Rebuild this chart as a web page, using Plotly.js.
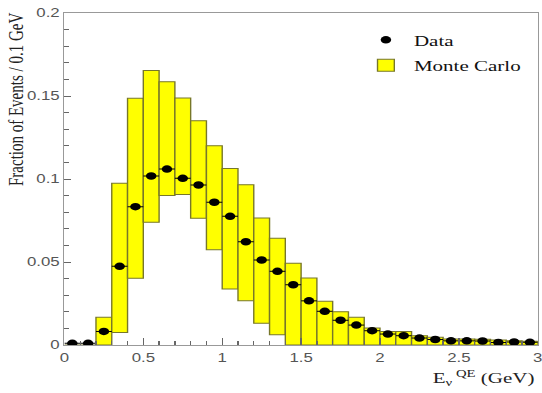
<!DOCTYPE html>
<html>
<head>
<meta charset="utf-8">
<script src="https://cdn.plot.ly/plotly-3.0.1.min.js"></script>
<style>
  html, body { margin: 0; padding: 0; background: #fff; overflow: hidden; }
  #wrap { width: 542px; height: 393px; overflow: hidden; }
  #plot { width: 387px; height: 393px; transform: scale(1.4005, 1); transform-origin: 0 0; }
</style>
</head>
<body>
<div id="wrap"><div id="plot"></div></div>
<script>
// Bin centres (GeV), bin width 0.1
const binCenters = [0.05,0.15,0.25,0.35,0.45,0.55,0.65,0.75,0.85,0.95,
                    1.05,1.15,1.25,1.35,1.45,1.55,1.65,1.75,1.85,1.95,
                    2.05,2.15,2.25,2.35,2.45,2.55,2.65,2.75,2.85,2.95];
// Data points (fraction of events / 0.1 GeV)
const dataValues = [0.001,0.001,0.0082,0.0474,0.0833,0.1018,0.106,0.1004,0.0964,0.086,
                    0.0775,0.0622,0.0512,0.0444,0.0363,0.0266,0.0203,0.0149,0.012,0.0086,
                    0.0066,0.0056,0.0042,0.0033,0.0025,0.0025,0.0024,0.0015,0.0018,0.0016];
// Monte Carlo band: upper and lower edges
const mcHigh = [0,0,0.0167,0.0975,0.1486,0.1653,0.1586,0.1488,0.1351,0.1201,
                0.1064,0.0966,0.0765,0.0643,0.0492,0.0404,0.0263,0.0201,0.0167,0.0102,
                0.0082,0.0082,0.0056,0.0046,0.0036,0.0036,0.0034,0.003,0.0026,0.0022];
const mcLow  = [0,0,0,0.0076,0.0402,0.0739,0.09,0.0906,0.0763,0.0574,
                0.0337,0.0267,0.0131,0.0062,0,0,0,0,0,0,
                0,0,0,0,0,0,0,0,0,0];
const binWidth = 0.1;

const dataTrace = {
  type: 'scatter', mode: 'markers', name: 'Data',
  x: binCenters, y: dataValues,
  marker: { color: '#000', size: 7.5, symbol: 'circle' },
  error_x: { type: 'constant', value: binWidth / 2, width: 0, thickness: 1, color: '#000' },
  legendgroup: 'a'
};
const mcTrace = {
  type: 'bar', name: 'Monte Carlo',
  x: binCenters, y: mcHigh.map((h, i) => h - mcLow[i]), base: mcLow,
  width: binWidth,
  marker: { color: '#ffff00', line: { color: '#77772a', width: 1 } },
  legendgroup: 'b'
};

const tickFont = { family: 'Liberation Sans, Arial, sans-serif', size: 12, color: '#555' };
const serif = 'Liberation Serif, Times New Roman, serif';

const layout = {
  width: 387, height: 393,
  margin: { l: 46, r: 3, t: 13, b: 47.5 },
  paper_bgcolor: '#fff', plot_bgcolor: '#fff',
  showlegend: true,
  barmode: 'overlay',
  legend: {
    x: 0.62, xanchor: 'left', y: 0.968, yanchor: 'top',
    font: { family: serif, size: 15, color: '#111' },
    bgcolor: 'rgba(0,0,0,0)', traceorder: 'grouped', tracegroupgap: 3
  },
  xaxis: {
    range: [0, 3], dtick: 0.5, tick0: 0,
    ticks: 'inside', ticklen: 7, tickcolor: '#666', tickwidth: 1,
    minor: { dtick: 0.1, ticks: 'inside', ticklen: 4, tickcolor: '#666' },
    showline: true, linecolor: '#999', linewidth: 1, mirror: true,
    showgrid: false, zeroline: false,
    tickfont: tickFont, ticklabelstandoff: 2, ticklabeloverflow: 'allow'
  },
  yaxis: {
    range: [0, 0.2], dtick: 0.05, tick0: 0,
    ticks: 'inside', ticklen: 5, tickcolor: '#666', tickwidth: 1,
    minor: { dtick: 0.01, ticks: 'inside', ticklen: 3.5, tickcolor: '#666' },
    showline: true, linecolor: '#999', linewidth: 1, mirror: true,
    showgrid: false, zeroline: false,
    tickfont: tickFont
  },
  annotations: [
    {
      text: 'Fraction of Events / 0.1 GeV', textangle: -90,
      xref: 'paper', yref: 'paper', x: -0.103, xanchor: 'center', y: 1.005, yanchor: 'top',
      showarrow: false, font: { family: serif, size: 15, color: '#222' }
    },
    {
      text: 'E<sub>ν</sub><sup> QE</sup> (GeV)',
      xref: 'paper', yref: 'paper', x: 1.0, xanchor: 'right', y: -0.098, yanchor: 'middle',
      showarrow: false, font: { family: serif, size: 15, color: '#222' }
    }
  ]
};

Plotly.newPlot('plot', [dataTrace, mcTrace], layout, { displayModeBar: false, staticPlot: true });
</script>
</body>
</html>
